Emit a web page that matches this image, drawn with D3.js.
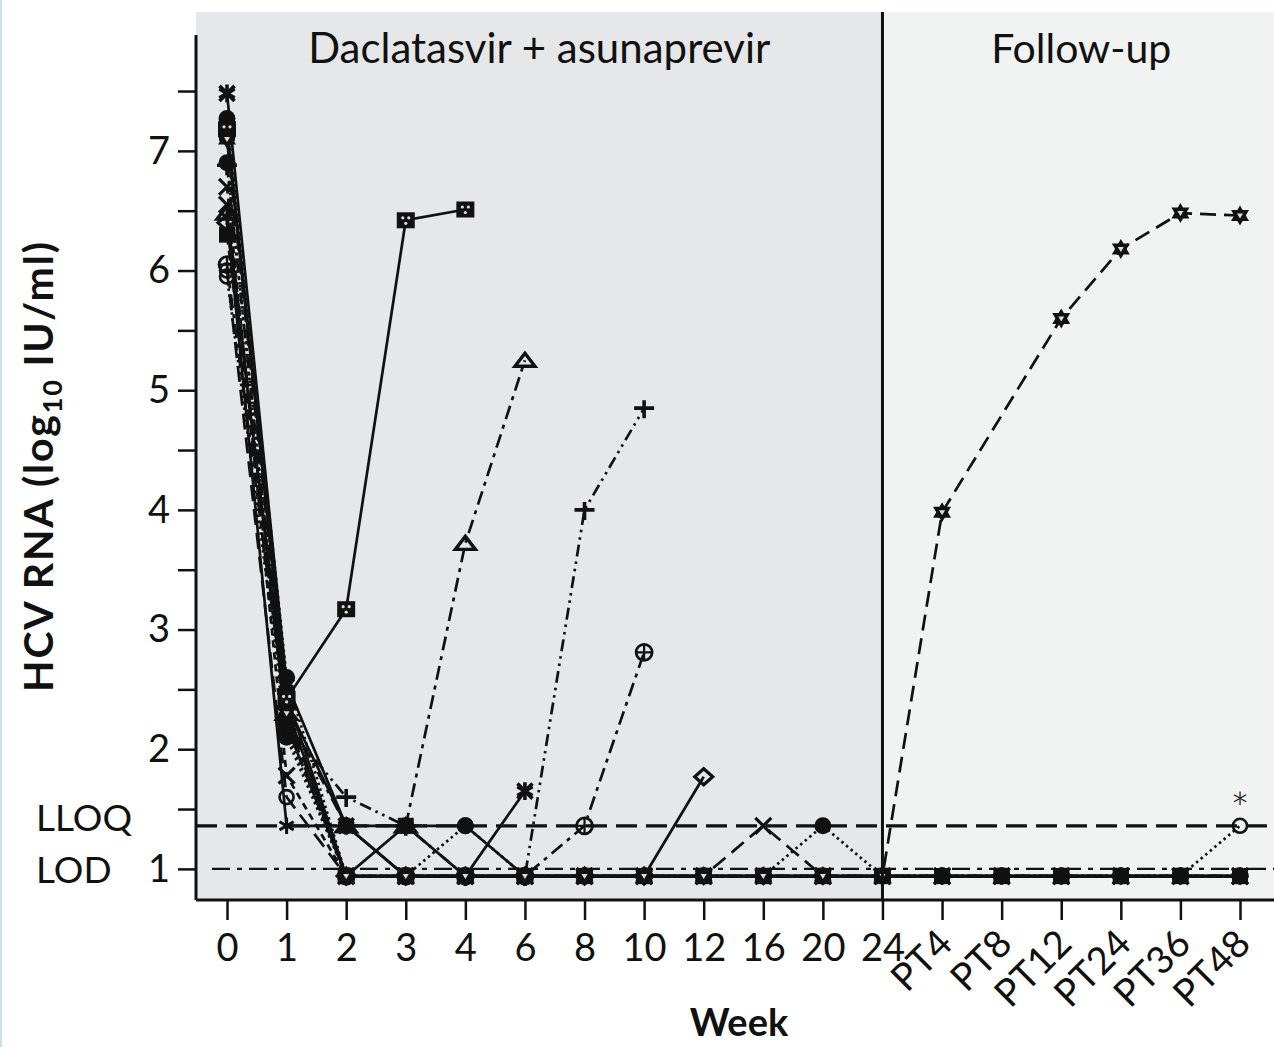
<!DOCTYPE html>
<html>
<head>
<meta charset="utf-8">
<title>HCV RNA</title>
<script src="https://cdn.jsdelivr.net/npm/d3@7"></script>
<style>
  body { margin: 0; background: #fff; }
  text { font-family: Lato, "Open Sans", sans-serif; fill: #111; }
</style>
</head>
<body>
<script>
// categories on the x axis
var weeks = ["0","1","2","3","4","6","8","10","12","16","20","24","PT4","PT8","PT12","PT24","PT36","PT48"];
var yTickValues = [1,1.5,2,2.5,3,3.5,4,4.5,5,5.5,6,6.5,7,7.5];
var lloq = 1.36, lod = 1.0;

// one array per patient, values in log10 IU/ml (null = no sample)
var p01 = [7.18,2.42,3.17,6.42,6.51,null,null,null,null,null,null,null,null,null,null,null,null,null];
var p02 = [6.48,2.30,1.36,1.36,3.72,5.25,null,null,null,null,null,null,null,null,null,null,null,null];
var p03 = [6.88,2.20,1.60,1.36,0.94,0.94,4.00,4.85,null,null,null,null,null,null,null,null,null,null];
var p04 = [6.05,2.25,0.94,0.94,0.94,0.94,1.36,2.81,null,null,null,null,null,null,null,null,null,null];
var p05 = [7.48,2.55,1.36,0.94,0.94,1.65,null,null,null,null,null,null,null,null,null,null,null,null];
var p06 = [7.15,2.45,0.94,1.36,0.94,0.94,0.94,0.94,0.94,0.94,0.94,0.94,0.94,0.94,0.94,0.94,0.94,0.94];
var p07 = [7.22,2.38,1.36,1.36,1.36,0.94,0.94,0.94,0.94,0.94,0.94,0.94,0.94,0.94,0.94,0.94,0.94,0.94];
var p08 = [7.27,2.60,0.94,0.94,1.36,0.94,0.94,0.94,0.94,0.94,0.94,0.94,0.94,0.94,0.94,0.94,0.94,0.94];
var p09 = [6.45,1.36,1.36,0.94,0.94,0.94,0.94,0.94,0.94,0.94,0.94,0.94,0.94,0.94,0.94,0.94,0.94,0.94];
var p10 = [6.00,1.60,0.94,0.94,0.94,0.94,0.94,0.94,0.94,0.94,0.94,0.94,0.94,0.94,0.94,0.94,0.94,0.94];
var p11 = [7.10,2.30,0.94,0.94,0.94,0.94,0.94,0.94,0.94,0.94,0.94,0.94,3.98,null,5.60,6.18,6.48,6.46];
var p12 = [6.55,2.20,0.94,0.94,0.94,0.94,0.94,0.94,0.94,1.36,0.94,0.94,0.94,0.94,0.94,0.94,0.94,0.94];
var p13 = [6.90,2.10,0.94,0.94,0.94,0.94,0.94,0.94,0.94,0.94,1.36,0.94,0.94,0.94,0.94,0.94,0.94,0.94];
var p14 = [6.40,2.35,0.94,0.94,0.94,0.94,0.94,0.94,1.77,null,null,null,null,null,null,null,null,null];
var p15 = [5.95,2.15,0.94,0.94,0.94,0.94,0.94,0.94,0.94,0.94,0.94,0.94,0.94,0.94,0.94,0.94,0.94,1.36];
var p16 = [6.70,1.78,0.94,0.94,0.94,0.94,0.94,0.94,0.94,0.94,0.94,0.94,0.94,0.94,0.94,0.94,0.94,0.94];
var p17 = [6.30,2.20,0.94,0.94,0.94,0.94,0.94,0.94,0.94,0.94,0.94,0.94,0.94,0.94,0.94,0.94,0.94,0.94];

var patients = [p06,p07,p09,p10,p12,p13,p15,p16,p17,p08,p05,p14,p04,p03,p02,p01,p11];
var lineStyle = ["solid","solid","solid","longdash","longdash","dotted","dotted","shortdash","dashed","dotted","solid","solid","dashdot","dashdotdot","dashdot","solid","longdash"];
var markerType = ["square","dot","star","ocircle","times","dot","ocircle","times","square","dot","asterisk","diamond","circleplus","plus","triangle","squaredot","hexagram"];

var dashes = {
  solid: null, longdash: "16,8", dashed: "10,6", shortdash: "7,5",
  dotted: "2.5,3.5", dashdot: "14,6,4,6", dashdotdot: "12,5,2.5,5,2.5,5"
};

var W = 1274, H = 1047;
var svg = d3.select("body").append("svg").attr("width", W).attr("height", H);

var x = d3.scalePoint().domain(weeks).range([227, 1240]);
var y = d3.scaleLinear().domain([0.74, 8.0]).range([900, 31.2]);
var xSplit = x("24");

// frame strip on the left
svg.append("rect").attr("x", 0).attr("y", 0).attr("width", 2).attr("height", H).attr("fill", "#c4e0e8");

// panels
svg.append("rect").attr("x", 196).attr("y", 12).attr("width", xSplit - 196).attr("height", 888).attr("fill", "#e6e7e8");
svg.append("rect").attr("x", xSplit).attr("y", 12).attr("width", W - xSplit).attr("height", 888).attr("fill", "#f1f2f2");

svg.append("text").attr("x", (196 + xSplit) / 2).attr("y", 63).attr("text-anchor", "middle")
  .attr("font-size", 42).text("Daclatasvir + asunaprevir");
svg.append("text").attr("x", (xSplit + W) / 2 + 3).attr("y", 63).attr("text-anchor", "middle")
  .attr("font-size", 41).text("Follow-up");

// reference lines
svg.append("line").attr("x1", 196).attr("x2", W).attr("y1", y(lloq)).attr("y2", y(lloq))
  .attr("stroke", "#111").attr("stroke-width", 3.2).attr("stroke-dasharray", "21,9");
svg.append("line").attr("x1", 212).attr("x2", W).attr("y1", y(lod)).attr("y2", y(lod))
  .attr("stroke", "#111").attr("stroke-width", 2.4).attr("stroke-dasharray", "18,7,5,7");

// series lines
var line = d3.line().x(function (d) { return x(d.w); }).y(function (d) { return y(d.v); });
var series = patients.map(function (vals, i) {
  var pts = [];
  vals.forEach(function (v, j) { if (v !== null) pts.push({ w: weeks[j], v: v }); });
  return { pts: pts, style: lineStyle[i], marker: markerType[i] };
});

var gLines = svg.append("g");
series.forEach(function (s) {
  gLines.append("path").attr("d", line(s.pts)).attr("fill", "none")
    .attr("stroke", "#111").attr("stroke-width", 2.7)
    .attr("stroke-dasharray", dashes[s.style]);
});

function drawMarker(g, type, cx, cy) {
  var m = g.append("g").attr("transform", "translate(" + cx + "," + cy + ")");
  var st = function (sel, w) { return sel.attr("fill", "none").attr("stroke", "#111").attr("stroke-width", w); };
  if (type === "square") {
    m.append("rect").attr("x", -8).attr("y", -8).attr("width", 16).attr("height", 16).attr("fill", "#111");
  } else if (type === "squaredot") {
    m.append("rect").attr("x", -9).attr("y", -8).attr("width", 18).attr("height", 16).attr("fill", "#111");
    [[-3,-2.5],[3,-2.5],[0,3]].forEach(function (p) {
      m.append("circle").attr("cx", p[0]).attr("cy", p[1]).attr("r", 1.6).attr("fill", "#ddd");
    });
  } else if (type === "dot") {
    m.append("circle").attr("r", 8.5).attr("fill", "#111");
  } else if (type === "ocircle") {
    st(m.append("circle").attr("r", 7), 2.6);
  } else if (type === "circleplus") {
    st(m.append("circle").attr("r", 8), 2.8);
    st(m.append("path").attr("d", "M-8,0H8M0,-8V8"), 2.2);
  } else if (type === "triangle") {
    st(m.append("path").attr("d", "M0,-7L10,6H-10Z"), 3.4);
  } else if (type === "diamond") {
    st(m.append("path").attr("d", "M0,-8L9,0L0,8L-9,0Z"), 3.2);
  } else if (type === "plus") {
    st(m.append("path").attr("d", "M-10,0H10M0,-8V10"), 3.6);
  } else if (type === "times") {
    st(m.append("path").attr("d", "M-8,-8L8,8M-8,8L8,-8"), 3.2);
  } else if (type === "star") {
    st(m.append("path").attr("d", d3.symbol(d3.symbolAsterisk, 190)()), 3);
  } else if (type === "asterisk") {
    st(m.append("path").attr("d", d3.symbol(d3.symbolAsterisk, 220)()), 3.6);
    st(m.append("path").attr("d", d3.symbol(d3.symbolTimes, 150)()), 3.6);
  } else if (type === "hexagram") {
    m.append("path").attr("d", "M0,-10L9,5.5H-9Z").attr("fill", "#111");
    m.append("path").attr("d", "M0,10L9,-5.5H-9Z").attr("fill", "#111");
    m.append("path").attr("d", "M0,3L3,-2H-3Z").attr("fill", "#ddd");
  }
}

var gMarks = svg.append("g");
series.forEach(function (s) {
  s.pts.forEach(function (p) { drawMarker(gMarks, s.marker, x(p.w), y(p.v)); });
});

svg.append("text").attr("x", x("PT48")).attr("y", 825).attr("text-anchor", "middle")
  .attr("font-size", 46).attr("font-weight", 300).text("*");

// divider
svg.append("line").attr("x1", xSplit).attr("x2", xSplit).attr("y1", 12).attr("y2", 900)
  .attr("stroke", "#111").attr("stroke-width", 3);

// axes
var yAxis = svg.append("g").attr("transform", "translate(196,0)")
  .call(d3.axisLeft(y).tickValues(yTickValues).tickSize(18).tickSizeOuter(0)
    .tickFormat(function (d) { return d % 1 === 0 ? d : ""; }));
yAxis.select(".domain").attr("stroke", "#111").attr("stroke-width", 3).attr("d", "M0,35V900");
yAxis.selectAll(".tick line").attr("stroke", "#111").attr("stroke-width", 2.5);
yAxis.selectAll(".tick text").attr("font-size", 38).attr("font-family", "Lato").attr("fill", "#111").attr("x", -26);

var xAxis = svg.append("g").attr("transform", "translate(0,900)")
  .call(d3.axisBottom(x).tickSize(20).tickSizeOuter(0));
xAxis.select(".domain").attr("stroke", "#111").attr("stroke-width", 3).attr("d", "M196,0H" + W);
xAxis.selectAll(".tick line").attr("stroke", "#111").attr("stroke-width", 2.5);
xAxis.selectAll(".tick text").attr("font-size", 38).attr("font-family", "Lato").attr("fill", "#111")
  .each(function (d) {
    var t = d3.select(this);
    if (d.indexOf("PT") === 0) {
      t.attr("text-anchor", "end").attr("y", 0).attr("dy", 0)
        .attr("transform", "translate(12,46) rotate(-45)");
    } else {
      t.attr("y", 34).attr("dy", "0.71em");
    }
  });

// axis titles
svg.append("text").attr("x", 739).attr("y", 1036).attr("text-anchor", "middle")
  .attr("font-size", 38).attr("font-weight", "bold").text("Week");

var yt = svg.append("text").attr("transform", "translate(53,467) rotate(-90)")
  .attr("text-anchor", "middle").attr("font-size", 41).attr("font-weight", "bold")
  .attr("font-family", "'Open Sans', Lato, sans-serif")
  .attr("textLength", 450).attr("lengthAdjust", "spacing");
yt.append("tspan").text("HCV RNA (log");
yt.append("tspan").attr("font-size", 27).attr("dy", 9).text("10");
yt.append("tspan").attr("dy", -9).text(" IU/ml)");

svg.append("text").attr("x", 36).attr("y", 831).attr("font-size", 37).text("LLOQ");
svg.append("text").attr("x", 36).attr("y", 883).attr("font-size", 37).text("LOD");
</script>
</body>
</html>
